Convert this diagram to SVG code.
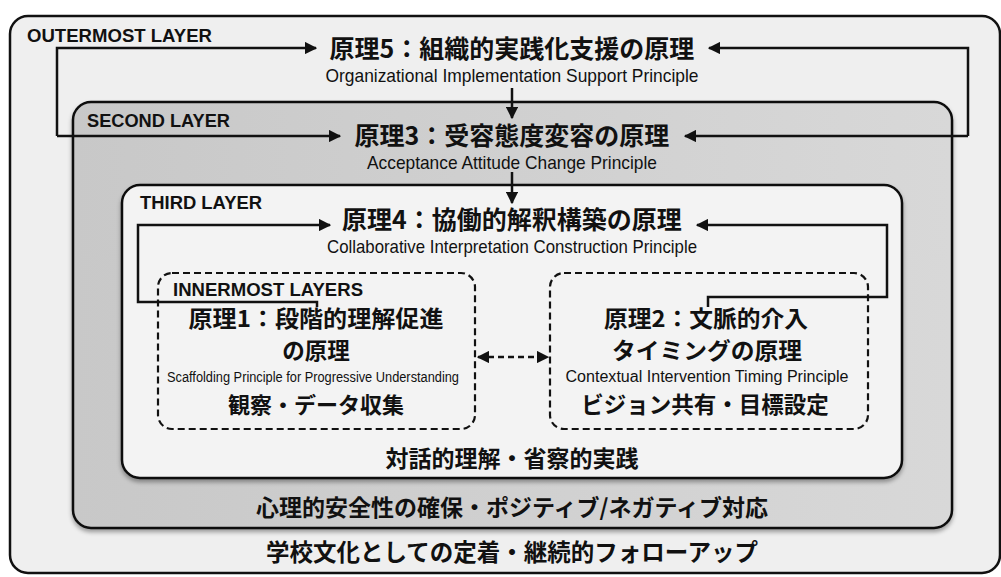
<svg xmlns="http://www.w3.org/2000/svg" width="1001" height="577" viewBox="0 0 1001 577">
<style>
.box{stroke:#111;stroke-width:2.5}
.dash{fill:none;stroke:#111;stroke-width:2.2;stroke-dasharray:7 4}
.lbl{font-family:"Liberation Sans",Arial,sans-serif;font-weight:bold;font-size:18px;fill:#111}
.jp{font-family:"Noto Sans CJK JP","Noto Sans",sans-serif;font-weight:bold;fill:#111;text-anchor:middle}
.en{font-family:"Liberation Sans",Arial,sans-serif;fill:#111;text-anchor:middle}
.con{fill:none;stroke:#111;stroke-width:2.5}
</style>
<defs>
<marker id="ah" viewBox="0 0 10 10" refX="9" refY="5" markerWidth="5" markerHeight="5" orient="auto-start-reverse" markerUnits="strokeWidth">
<path d="M0,0 L10,5 L0,10 z" fill="#111"/>
</marker>
<linearGradient id="g2" x1="0" y1="0" x2="1" y2="0">
<stop offset="0" stop-color="#c8c8c8"/>
<stop offset="1" stop-color="#d8d8d8"/>
</linearGradient>
<filter id="sh" x="-5%" y="-5%" width="110%" height="115%">
<feDropShadow dx="0" dy="3" stdDeviation="2" flood-opacity="0.35"/>
</filter>
</defs>
<rect width="1001" height="577" fill="#ffffff"/>
<g id="outermost">
<rect class="box" x="10" y="16" width="990" height="557" rx="18" fill="#efefef"/>
<text class="lbl" x="27" y="42" textLength="185" lengthAdjust="spacingAndGlyphs">OUTERMOST LAYER</text>
<text class="jp" x="512" y="58" font-size="25">原理5：組織的実践化支援の原理</text>
<text class="en" x="512" y="82" font-size="19" textLength="373" lengthAdjust="spacingAndGlyphs">Organizational Implementation Support Principle</text>
<text class="jp" x="512" y="561" font-size="23.5">学校文化としての定着・継続的フォローアップ</text>
</g>
<g id="second">
<rect class="box" x="73" y="102" width="879" height="426" rx="18" fill="url(#g2)" filter="url(#sh)"/>
<text class="lbl" x="87" y="127" textLength="143" lengthAdjust="spacingAndGlyphs">SECOND LAYER</text>
<text class="jp" x="512" y="145" font-size="25">原理3：受容態度変容の原理</text>
<text class="en" x="512" y="169" font-size="19" textLength="290" lengthAdjust="spacingAndGlyphs">Acceptance Attitude Change Principle</text>
<text class="jp" x="512" y="516" font-size="23">心理的安全性の確保・ポジティブ/ネガティブ対応</text>
</g>
<g id="third">
<rect class="box" x="122" y="185" width="780" height="293" rx="18" fill="#f3f3f3" filter="url(#sh)"/>
<text class="lbl" x="140" y="209" textLength="122" lengthAdjust="spacingAndGlyphs">THIRD LAYER</text>
<text class="jp" x="512" y="229" font-size="25">原理4：協働的解釈構築の原理</text>
<text class="en" x="512" y="253" font-size="19" textLength="370" lengthAdjust="spacingAndGlyphs">Collaborative Interpretation Construction Principle</text>
<text class="jp" x="512" y="467" font-size="23">対話的理解・省察的実践</text>
</g>
<g id="principle1">
<rect class="dash" x="158" y="273" width="317" height="156" rx="14"/>
<text class="lbl" x="173" y="296" textLength="190" lengthAdjust="spacingAndGlyphs">INNERMOST LAYERS</text>
<text class="jp" x="316" y="327" font-size="22.5" textLength="255" lengthAdjust="spacingAndGlyphs">原理1：段階的理解促進</text>
<text class="jp" x="316" y="359" font-size="22.5">の原理</text>
<text class="en" x="313" y="382" font-size="14" textLength="292" lengthAdjust="spacingAndGlyphs">Scaffolding Principle for Progressive Understanding</text>
<text class="jp" x="316" y="413" font-size="22">観察・データ収集</text>
</g>
<g id="principle2">
<rect class="dash" x="550" y="273" width="318" height="156" rx="14"/>
<text class="jp" x="706" y="327" font-size="22.5" textLength="204" lengthAdjust="spacingAndGlyphs">原理2：文脈的介入</text>
<text class="jp" x="707" y="359" font-size="22.5" textLength="190" lengthAdjust="spacingAndGlyphs">タイミングの原理</text>
<text class="en" x="707" y="382" font-size="16" textLength="283" lengthAdjust="spacingAndGlyphs">Contextual Intervention Timing Principle</text>
<text class="jp" x="705" y="413" font-size="22.5">ビジョン共有・目標設定</text>
</g>
<g id="connectors">
<path class="con" d="M57,136 V48 H316" marker-end="url(#ah)"/>
<path class="con" d="M57,136 H340" marker-end="url(#ah)"/>
<path class="con" d="M968,136 V48 H709" marker-end="url(#ah)"/>
<path class="con" d="M968,136 H685" marker-end="url(#ah)"/>
<path class="con" d="M512,88 V118" marker-end="url(#ah)"/>
<path class="con" d="M512,172 V203" marker-end="url(#ah)"/>
<path class="con" d="M317,307 V302 H138 V225 H330" marker-end="url(#ah)"/>
<path class="con" d="M708,307 V297 H887 V225 H697" marker-end="url(#ah)"/>
<path class="con" d="M478,357 H548" stroke-dasharray="6 4" marker-start="url(#ah)" marker-end="url(#ah)"/>
</g>
</svg>
